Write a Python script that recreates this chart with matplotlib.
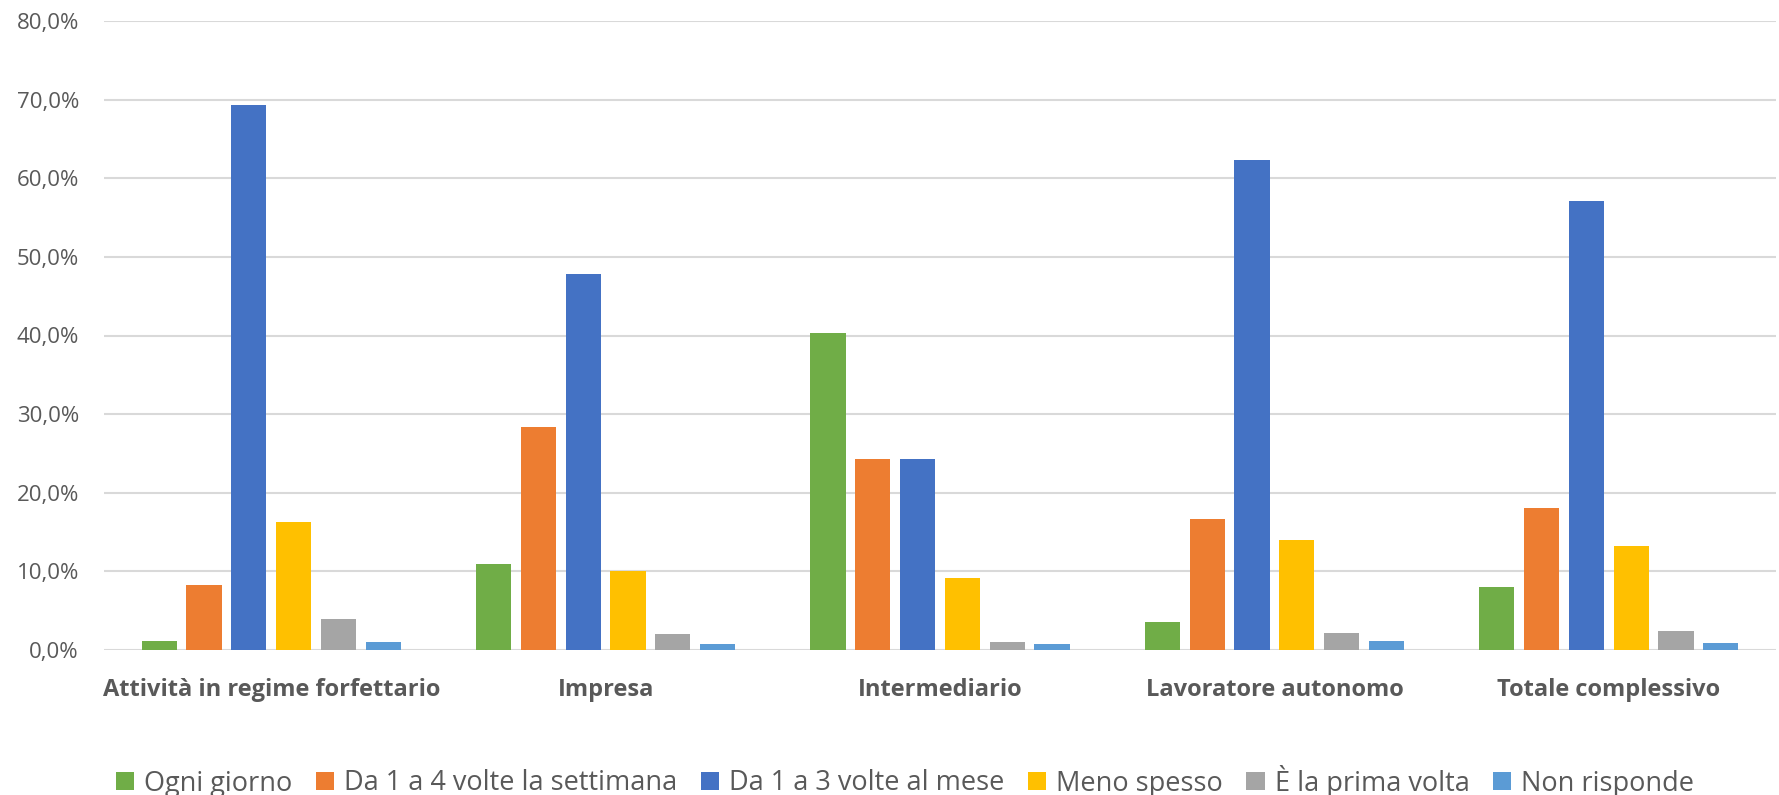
import matplotlib
matplotlib.use("Agg")
import matplotlib.pyplot as plt
from matplotlib.ticker import FuncFormatter
import numpy as np

categories = ["Attività in regime forfettario", "Impresa", "Intermediario",
              "Lavoratore autonomo", "Totale complessivo"]
series_names = ["Ogni giorno", "Da 1 a 4 volte la settimana", "Da 1 a 3 volte al mese",
                "Meno spesso", "È la prima volta", "Non risponde"]
ogni_giorno = [1.1, 10.9, 40.3, 3.6, 8.0]
da_1_a_4_settimana = [8.3, 28.4, 24.3, 16.7, 18.1]
da_1_a_3_mese = [69.3, 47.8, 24.3, 62.3, 57.1]
meno_spesso = [16.3, 10.0, 9.2, 14.0, 13.2]
prima_volta = [4.0, 2.0, 1.0, 2.1, 2.4]
non_risponde = [1.0, 0.7, 0.8, 1.1, 0.9]
series_values = [ogni_giorno, da_1_a_4_settimana, da_1_a_3_mese,
                 meno_spesso, prima_volta, non_risponde]
colors = ["#70AD47", "#ED7D31", "#4472C4", "#FFC000", "#A5A5A5", "#5B9BD5"]
y_ticks = [0, 10, 20, 30, 40, 50, 60, 70, 80]

text_color = "#595959"
grid_color = "#D9D9D9"
font = "Open Sans"

fig = plt.figure(figsize=(17.79, 7.95), dpi=100)
ax = fig.add_axes([104 / 1779, 145 / 795, 1672 / 1779, 629 / 795])

x = np.arange(len(categories))
bar_w = 0.1056
pitch = 0.134
n = len(series_values)
for i, (vals, col, name) in enumerate(zip(series_values, colors, series_names)):
    offs = (i - (n - 1) / 2) * pitch
    ax.bar(x + offs, vals, width=bar_w, color=col, label=name, zorder=3,
           edgecolor="none")

ax.set_xlim(-0.5, len(categories) - 0.5)
ax.set_ylim(0, 80)
ax.set_yticks(y_ticks)
ax.yaxis.set_major_formatter(FuncFormatter(lambda v, p: f"{v:.1f}%".replace(".", ",")))
ax.grid(axis="y", color=grid_color, linewidth=1.5, zorder=0)
ax.set_axisbelow(True)
for s in ax.spines.values():
    s.set_visible(False)
ax.tick_params(axis="both", length=0)
ax.tick_params(axis="y", pad=18, labelsize=16, labelcolor=text_color)
ax.set_xticks(x)
ax.set_xticklabels(categories, fontsize=17, fontweight="bold", color=text_color,
                   family=font)
ax.tick_params(axis="x", pad=20)
for lbl in ax.get_yticklabels():
    lbl.set_family(font)

leg = fig.legend(loc="center", bbox_to_anchor=(905 / 1779, 14 / 795), ncol=6,
                 frameon=False, prop={"family": font, "size": 19.5},
                 handlelength=0.68, handleheight=0.68, handletextpad=0.36,
                 columnspacing=0.87, borderpad=0, borderaxespad=0)
for t in leg.get_texts():
    t.set_color(text_color)

fig.savefig("out.png", dpi=100)
